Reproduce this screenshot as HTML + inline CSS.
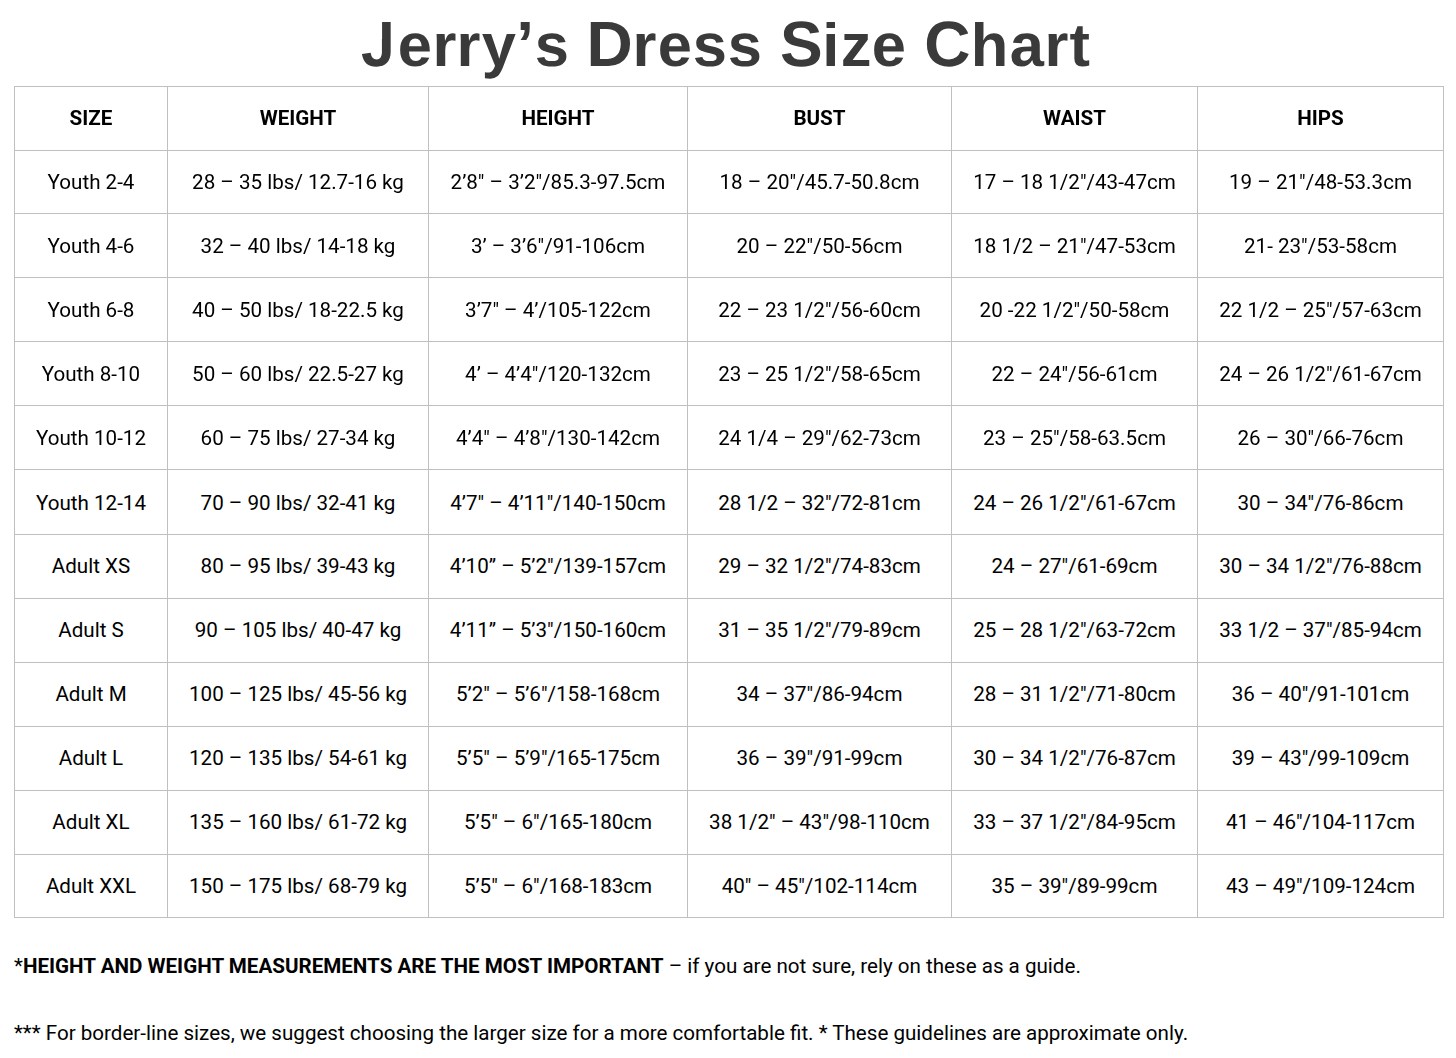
<!DOCTYPE html><html><head><meta charset="utf-8"><title>Jerry’s Dress Size Chart</title><style>
*{box-sizing:border-box}
html,body{margin:0;padding:0;background:#fff}
body{width:1456px;height:1058px;position:relative;overflow:hidden;font-family:"Roboto","Liberation Sans",sans-serif;color:#000}
h1{position:absolute;left:-2.5px;top:-1px;width:1456px;margin:0;text-align:center;font-family:"Liberation Sans",Arial,sans-serif;font-weight:bold;font-size:64px;line-height:90px;letter-spacing:-0.35px;color:#3a3a3a;white-space:nowrap;text-rendering:geometricPrecision}
.jj{display:inline-block;transform:scaleX(0.95);transform-origin:0 0;clip-path:polygon(22.2px 0,100% 0,100% 100%,0 100%,0 40px,22.2px 40px)}
.lc{display:inline-block;transform:scale(0.96,0.95);transform-origin:50% 67px}
table{position:absolute;left:14px;top:86px;border-collapse:separate;border-spacing:0;table-layout:fixed;width:1430px;border-top:1px solid #c0c0c0;border-left:1px solid #c0c0c0}
td,th{border-right:1px solid #c0c0c0;border-bottom:1px solid #c0c0c0;padding:0;text-align:center;vertical-align:middle;font-size:20.6px;letter-spacing:0px;white-space:nowrap;overflow:hidden;color:#000}
td{padding-top:0px}
.g td,.g th{will-change:transform}
.dn td{padding-top:2px}
.up td{padding-bottom:2px}
th{font-weight:bold;padding-bottom:2px;font-size:20.6px;letter-spacing:0px}
p{position:absolute;left:14px;margin:0;font-size:20.6px;letter-spacing:0px;white-space:nowrap;line-height:30px;color:#000}
</style></head><body>
<h1><span class="jj">J</span><span class="lc">e</span><span class="lc">r</span><span class="lc">r</span><span class="lc">y</span>’<span class="lc">s</span> D<span class="lc">r</span><span class="lc">e</span><span class="lc">s</span><span class="lc">s</span> S<span class="lc">i</span><span class="lc">z</span><span class="lc">e</span> C<span class="lc">h</span><span class="lc">a</span><span class="lc">r</span><span class="lc">t</span></h1>
<table><colgroup><col style="width:153px"><col style="width:261px"><col style="width:259px"><col style="width:264px"><col style="width:246px"><col style="width:246px"></colgroup>
<thead><tr class="g" style="height:64px"><th>SIZE</th><th>WEIGHT</th><th>HEIGHT</th><th>BUST</th><th>WAIST</th><th>HIPS</th></tr></thead><tbody>
<tr class="g" style="height:63px"><td>Youth 2-4</td><td>28 – 35 lbs/ 12.7-16 kg</td><td>2’8″ – 3’2″/85.3-97.5cm</td><td>18 – 20″/45.7-50.8cm</td><td>17 – 18 1/2″/43-47cm</td><td>19 – 21″/48-53.3cm</td></tr>
<tr class="g" style="height:64px"><td>Youth 4-6</td><td>32 – 40 lbs/ 14-18 kg</td><td>3’ – 3’6″/91-106cm</td><td>20 – 22″/50-56cm</td><td>18 1/2 – 21″/47-53cm</td><td>21- 23″/53-58cm</td></tr>
<tr class="g" style="height:64px"><td>Youth 6-8</td><td>40 – 50 lbs/ 18-22.5 kg</td><td>3’7″ – 4’/105-122cm</td><td>22 – 23 1/2″/56-60cm</td><td>20 -22 1/2″/50-58cm</td><td>22 1/2 – 25″/57-63cm</td></tr>
<tr class="g" style="height:64px"><td>Youth 8-10</td><td>50 – 60 lbs/ 22.5-27 kg</td><td>4’ – 4’4″/120-132cm</td><td>23 – 25 1/2″/58-65cm</td><td>22 – 24″/56-61cm</td><td>24 – 26 1/2″/61-67cm</td></tr>
<tr class="g" style="height:64px"><td>Youth 10-12</td><td>60 – 75 lbs/ 27-34 kg</td><td>4’4″ – 4’8″/130-142cm</td><td>24 1/4 – 29″/62-73cm</td><td>23 – 25″/58-63.5cm</td><td>26 – 30″/66-76cm</td></tr>
<tr class="dn" style="height:65px"><td>Youth 12-14</td><td>70 – 90 lbs/ 32-41 kg</td><td>4’7″ – 4’11″/140-150cm</td><td>28 1/2 – 32″/72-81cm</td><td>24 – 26 1/2″/61-67cm</td><td>30 – 34″/76-86cm</td></tr>
<tr class="up" style="height:64px"><td>Adult XS</td><td>80 – 95 lbs/ 39-43 kg</td><td>4’10” – 5’2″/139-157cm</td><td>29 – 32 1/2″/74-83cm</td><td>24 – 27″/61-69cm</td><td>30 – 34 1/2″/76-88cm</td></tr>
<tr class="up" style="height:64px"><td>Adult S</td><td>90 – 105 lbs/ 40-47 kg</td><td>4’11” – 5’3″/150-160cm</td><td>31 – 35 1/2″/79-89cm</td><td>25 – 28 1/2″/63-72cm</td><td>33 1/2 – 37″/85-94cm</td></tr>
<tr class="up" style="height:64px"><td>Adult M</td><td>100 – 125 lbs/ 45-56 kg</td><td>5’2″ – 5’6″/158-168cm</td><td>34 – 37″/86-94cm</td><td>28 – 31 1/2″/71-80cm</td><td>36 – 40″/91-101cm</td></tr>
<tr class="up" style="height:64px"><td>Adult L</td><td>120 – 135 lbs/ 54-61 kg</td><td>5’5″ – 5’9″/165-175cm</td><td>36 – 39″/91-99cm</td><td>30 – 34 1/2″/76-87cm</td><td>39 – 43″/99-109cm</td></tr>
<tr class="up" style="height:64px"><td>Adult XL</td><td>135 – 160 lbs/ 61-72 kg</td><td>5’5″ – 6″/165-180cm</td><td>38 1/2″ – 43″/98-110cm</td><td>33 – 37 1/2″/84-95cm</td><td>41 – 46″/104-117cm</td></tr>
<tr style="height:63px"><td>Adult XXL</td><td>150 – 175 lbs/ 68-79 kg</td><td>5’5″ – 6″/168-183cm</td><td>40″ – 45″/102-114cm</td><td>35 – 39″/89-99cm</td><td>43 – 49″/109-124cm</td></tr>
</tbody></table>
<p style="top:951px">*<b>HEIGHT AND WEIGHT MEASUREMENTS ARE THE MOST IMPORTANT</b> – if you are not sure, rely on these as a guide.</p>
<p style="top:1018px">*** For border-line sizes, we suggest choosing the larger size for a more comfortable fit. * These guidelines are approximate only.</p>
</body></html>
